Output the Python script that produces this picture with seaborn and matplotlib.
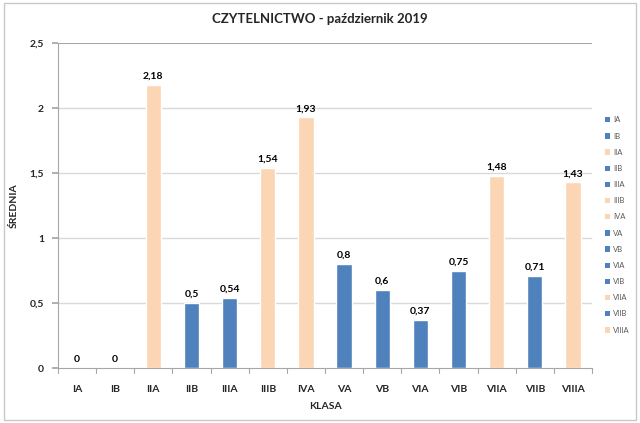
import matplotlib

matplotlib.use("Agg")
import matplotlib.pyplot as plt
import pandas as pd
import seaborn as sns
from matplotlib.patches import Patch, Rectangle

klasy = ["IA", "IB", "IIA", "IIB", "IIIA", "IIIB", "IVA", "VA", "VB", "VIA",
         "VIB", "VIIA", "VIIB", "VIIIA"]
srednie = [0, 0, 2.18, 0.5, 0.54, 1.54, 1.93, 0.8, 0.6, 0.37, 0.75, 1.48, 0.71, 1.43]
grupy = ["B", "B", "P", "B", "B", "P", "P", "B", "B", "B", "B", "P", "B", "P"]
etykiety = ["0", "0", "2,18", "0,5", "0,54", "1,54", "1,93", "0,8", "0,6", "0,37",
            "0,75", "1,48", "0,71", "1,43"]
y_ticks = [0, 0.5, 1, 1.5, 2, 2.5]
y_tick_labels = ["0", "0,5", "1", "1,5", "2", "2,5"]

BLUE = "#4F81BD"
PEACH = "#FCD5B5"
kolory = {"B": BLUE, "P": PEACH}

sns.set_theme(style="white")
plt.rcParams["font.family"] = ["Lato", "DejaVu Sans"]

df = pd.DataFrame({"klasa": klasy, "srednia": srednie, "grupa": grupy})
palette = {k: kolory[g] for k, g in zip(klasy, grupy)}

fig = plt.figure(figsize=(6.4, 4.23), dpi=100)
fig.patches.append(Rectangle((0.006, 0.007), 0.988, 0.985, transform=fig.transFigure,
                             fill=False, edgecolor="#c8c8c8", lw=1))
ax = fig.add_axes([58 / 640, 1 - 368 / 423, 534 / 640, 325 / 423])

sns.barplot(data=df, x="klasa", y="srednia", hue="klasa", palette=palette,
            width=0.4, legend=False, ax=ax, saturation=1, zorder=2)

for patch, lab in zip(ax.patches, etykiety):
    ax.text(patch.get_x() + patch.get_width() / 2, patch.get_height() + 0.03, lab,
            ha="center", va="bottom", fontsize=7.5, fontweight="bold", color="#000000")

ax.set_ylim(0, 2.5)
ax.set_xlim(-0.5, len(klasy) - 0.5)
ax.set_yticks(y_ticks)
ax.set_yticklabels(y_tick_labels, fontsize=7.5, fontweight="bold")
ax.set_xticks(range(len(klasy)))
ax.set_xticklabels(klasy, fontsize=7.5, fontweight="bold")
for y in y_ticks[1:-1]:
    ax.axhline(y, color="#d9d9d9", lw=1, zorder=0)
ax.axhline(2.5, color="#a6a6a6", lw=0.8, zorder=0)
for sp in ["top", "right"]:
    ax.spines[sp].set_visible(False)
ax.spines["left"].set_color("#a6a6a6")
ax.spines["bottom"].set_color("#a6a6a6")
ax.spines["left"].set_linewidth(0.8)
ax.spines["bottom"].set_linewidth(0.8)
ax.tick_params(axis="x", length=0, pad=12)
ax.tick_params(axis="y", length=4, color="#a6a6a6", direction="out", pad=6, left=True)
# boundary ticks between categories
for i in range(len(klasy) + 1):
    ax.plot([i - 0.5, i - 0.5], [0, -0.04], color="#a6a6a6", lw=0.8, clip_on=False)

ax.set_xlabel("KLASA", fontsize=7.5, fontweight="bold", labelpad=6)
ax.set_ylabel("ŚREDNIA", fontsize=7.5, fontweight="bold", labelpad=8)
fig.text(0.5, 1 - 19 / 423, "CZYTELNICTWO - październik 2019", ha="center", va="center",
         fontsize=9.5, fontweight="bold")

handles = [Patch(facecolor=palette[k], edgecolor="none") for k in klasy]
leg = fig.legend(handles, klasy, loc="center left", bbox_to_anchor=(598 / 640, 1 - 225 / 423),
                 frameon=False, fontsize=5.5, handlelength=0.7, handleheight=0.7,
                 handletextpad=0.4, labelspacing=1.2, labelcolor="#595959")

fig.savefig("out.png", dpi=100)
